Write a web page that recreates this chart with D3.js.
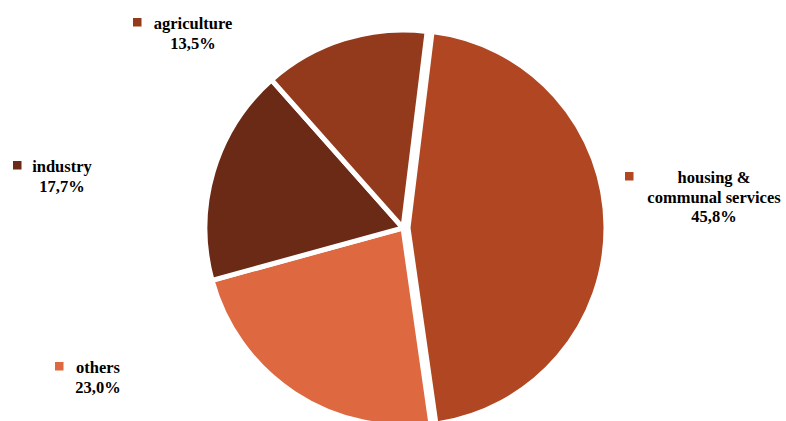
<!DOCTYPE html>
<html>
<head>
<meta charset="utf-8">
<script src="https://cdn.jsdelivr.net/npm/d3@7"></script>
<style>
  html, body { margin: 0; padding: 0; background: #ffffff; }
  svg { display: block; }
  text { font-family: "Liberation Serif", "Times New Roman", serif; font-weight: bold; fill: #000; }
</style>
</head>
<body>
<svg id="chart" width="786" height="421"></svg>
<script>
// Share of spending by sector, in percent (drawn clockwise from the top)
const categories = ["housing & communal services", "others", "industry", "agriculture"];
const labelLines = [["housing &", "communal services"], ["others"], ["industry"], ["agriculture"]];
const values = [45.8, 23.0, 17.7, 13.5];
const colors = ["#B04722", "#DE683F", "#6B2A15", "#933A1D"];

// Label block placement: centre x of text, baseline of first line, marker x
const labelLayout = [
  { cx: 714, y: 183, mx: 625 },
  { cx: 98,  y: 373, mx: 55 },
  { cx: 62,  y: 172, mx: 13 },
  { cx: 193, y: 29,  mx: 133 }
];

const svg = d3.select("#chart");
const cx = 403, cy = 228, radius = 198;
const explodeIdx = 0, explodeDist = 5;

const pie = d3.pie()
  .sort(null)
  .value(d => d)
  .startAngle(7 * Math.PI / 180)
  .endAngle(7 * Math.PI / 180 + 2 * Math.PI);

const arc = d3.arc().innerRadius(0).outerRadius(radius);
const arcs = pie(values);

const g = svg.append("g").attr("transform", `translate(${cx},${cy})`);

g.selectAll("path.slice")
  .data(arcs)
  .join("path")
  .attr("class", "slice")
  .attr("d", arc)
  .attr("fill", (d, i) => colors[i])
  .attr("stroke", "#ffffff")
  .attr("stroke-width", 5)
  .attr("stroke-linejoin", "miter")
  .attr("transform", (d, i) => {
    if (i !== explodeIdx) return null;
    const mid = (d.startAngle + d.endAngle) / 2;
    return `translate(${Math.sin(mid) * explodeDist},${-Math.cos(mid) * explodeDist})`;
  });

const fmt = v => d3.format(".1f")(v).replace(".", ",") + "%";
const fontSize = 16.5, lineH = 19.5, markSize = 8.5;

labelLayout.forEach((p, i) => {
  const lab = svg.append("g");
  lab.append("rect")
    .attr("x", p.mx)
    .attr("y", p.y - 11)
    .attr("width", markSize)
    .attr("height", markSize)
    .attr("fill", colors[i]);
  const lines = labelLines[i].concat([fmt(values[i])]);
  lines.forEach((t, k) => {
    lab.append("text")
      .attr("x", p.cx)
      .attr("y", p.y + k * lineH)
      .attr("text-anchor", "middle")
      .attr("font-size", fontSize)
      .text(t);
  });
});
</script>
</body>
</html>
